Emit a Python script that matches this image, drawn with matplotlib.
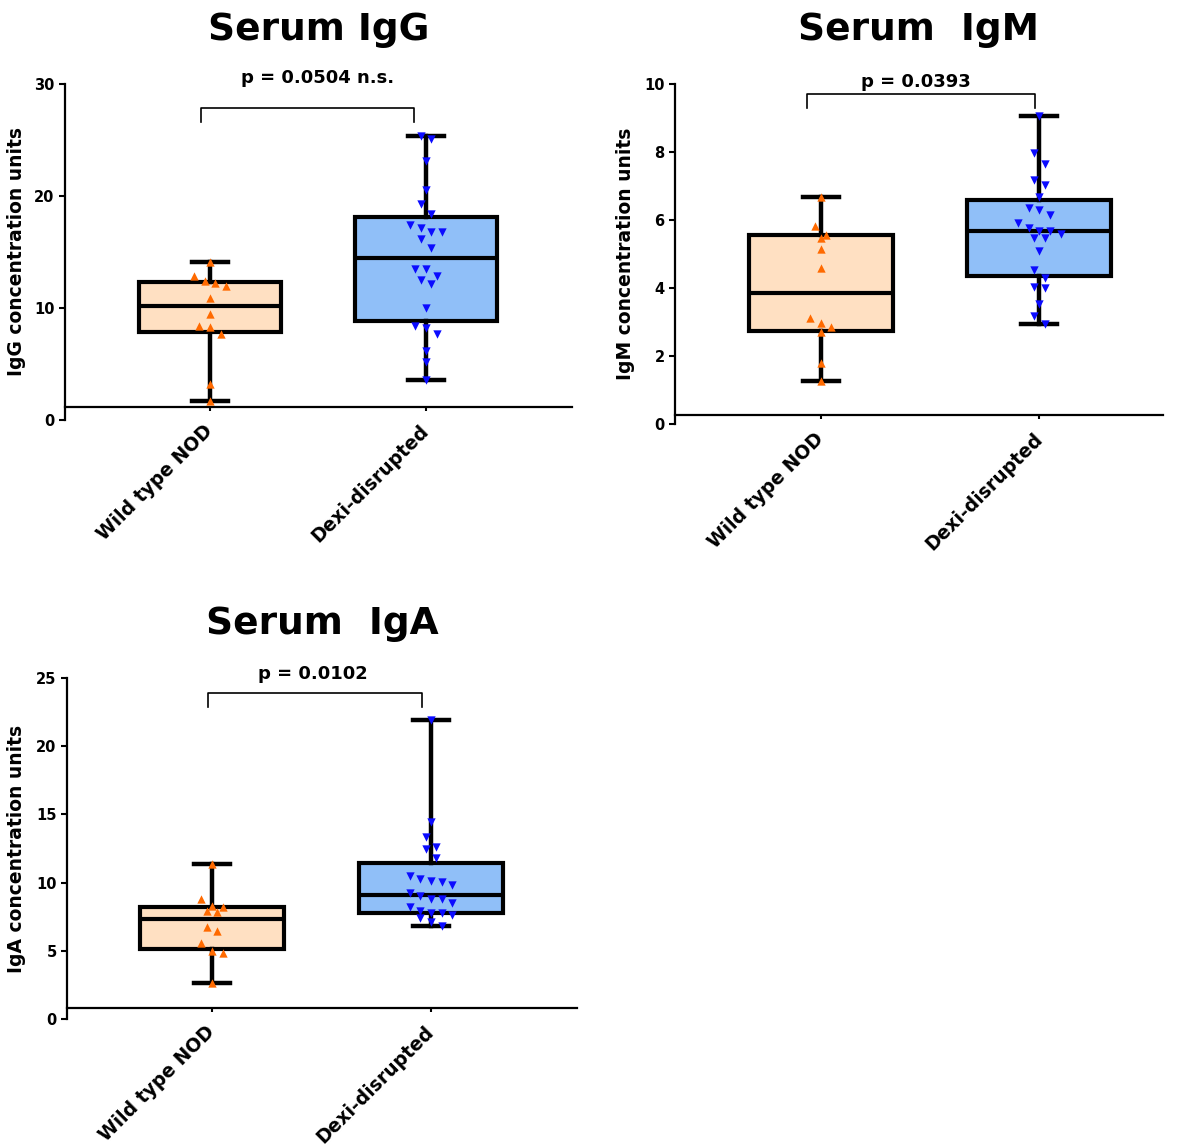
import numpy as np
import matplotlib.pyplot as plt

plt.rcParams['font.family'] = ['DejaVu Sans']
plt.rcParams['font.weight'] = 'bold'

groups = ['Wild type NOD', 'Dexi-disrupted']

# serum immunoglobulin levels, concentration units
igg_wt = [14.1, 12.9, 12.2, 12.0, 12.4, 10.9, 9.5, 8.4, 8.3, 7.7, 3.2, 1.7]
igg_dexi = [25.4, 25.1, 23.1, 20.5, 19.3, 18.4, 17.4, 16.8, 16.8, 17.1, 16.2, 15.4,
            13.5, 13.5, 12.9, 12.5, 12.1, 10.0, 8.4, 8.2, 7.7, 6.2, 5.2, 3.6]

igm_wt = [6.67, 5.83, 5.57, 5.48, 5.15, 4.60, 3.13, 2.98, 2.86, 2.71, 1.79, 1.26]
igm_dexi = [9.06, 7.96, 7.65, 7.18, 7.03, 6.67, 6.34, 6.29, 6.15, 5.90, 5.77, 5.68,
            5.68, 5.59, 5.48, 5.46, 5.09, 4.53, 4.30, 4.01, 4.04, 3.53, 3.18, 2.93]

iga_wt = [11.39, 8.82, 8.26, 8.21, 7.89, 7.87, 6.74, 6.45, 5.59, 4.96, 4.86, 2.66]
iga_dexi = [21.94, 14.41, 13.31, 12.46, 12.63, 11.80, 10.45, 10.26, 10.04, 10.12,
            9.80, 9.24, 8.99, 8.82, 8.82, 8.50, 8.21, 7.77, 7.77, 7.89, 7.65, 7.40,
            7.11, 6.84]

p_labels = ['p = 0.0504 n.s.', 'p = 0.0393', 'p = 0.0102']
titles = ['Serum IgG', 'Serum  IgM', 'Serum  IgA']
ylabels = ['IgG concentration units', 'IgM concentration units',
           'IgA concentration units']
yticks = [[0, 10, 20, 30], [0, 2, 4, 6, 8, 10], [0, 5, 10, 15, 20, 25]]

FIG_W, FIG_H = 1179, 1148
box_colors = ['#FFE0C2', '#90BFF8']
point_colors = ['#FF6A00', '#0B0BFF']
point_markers = ['^', 'v']


def box_stats(values):
    v = np.asarray(values, dtype=float)
    q1, med, q3 = np.percentile(v, [25, 50, 75], method='weibull')
    return dict(med=med, q1=q1, q3=q3, whislo=v.min(), whishi=v.max(), fliers=[])


def swarm_offsets(values, gap, step):
    # points closer than `gap` share a row and are spread symmetrically
    values = np.asarray(values, dtype=float)
    order = np.argsort(-values, kind='stable')
    offsets = np.zeros(len(values))
    rows, row = [], []
    for idx in order:
        if row and values[row[0]] - values[idx] > gap:
            rows.append(row)
            row = []
        row.append(idx)
    rows.append(row)
    for row in rows:
        k = len(row)
        for i, idx in enumerate(row):
            offsets[idx] = (i - (k - 1) / 2) * step
    return offsets


def draw_panel(rect_px, xlim, ymax, base, data, title, ylabel, ticks, p_text,
               p_xy, bracket, ylabel_x):
    x0, y_top, x1, y_bottom = rect_px
    ax = fig.add_axes([x0 / FIG_W, 1 - y_bottom / FIG_H,
                       (x1 - x0) / FIG_W, (y_bottom - y_top) / FIG_H])
    ax.set_xlim(*xlim)
    ax.set_ylim(0, ymax)

    stats = [box_stats(d) for d in data]
    bp = ax.bxp(stats, positions=[0, 1], widths=0.66, capwidths=0.165,
                patch_artist=True, showfliers=False,
                boxprops=dict(linewidth=3, edgecolor='black'),
                medianprops=dict(color='black', linewidth=3),
                whiskerprops=dict(color='black', linewidth=3.2),
                capprops=dict(color='black', linewidth=3.2))
    for patch, c in zip(bp['boxes'], box_colors):
        patch.set_facecolor(c)

    # pixel scale of this panel, used to space the scattered points
    px_per_x = (x1 - x0) / (xlim[1] - xlim[0])
    px_per_y = (y_bottom - y_top) / ymax
    for i, d in enumerate(data):
        off = swarm_offsets(d, gap=11 / px_per_y, step=10.7 / px_per_x)
        ax.scatter(i + off, d, marker=point_markers[i], s=36,
                   color=point_colors[i], linewidths=0, zorder=4, clip_on=False)

    # significance bracket
    bx0, bx1, btop, bend = bracket
    ax.plot([bx0, bx0, bx1, bx1], [bend, btop, btop, bend], color='black',
            linewidth=1.2, clip_on=False)
    ax.text(p_xy[0], p_xy[1], p_text, ha='center', va='baseline', fontsize=13,
            fontweight='bold')

    for side in ['top', 'right']:
        ax.spines[side].set_visible(False)
    ax.spines['left'].set_linewidth(1.6)
    ax.spines['bottom'].set_linewidth(1.6)
    ax.spines['bottom'].set_position(('data', base))

    ax.set_yticks(ticks)
    ax.set_yticklabels([str(t) for t in ticks], fontsize=10.5, fontweight='bold')
    ax.tick_params(axis='y', direction='out', length=4.5, width=1.5, pad=3)
    ax.set_xticks([0, 1])
    ax.set_xticklabels(groups, rotation=45, ha='right', va='center',
                       rotation_mode='anchor', fontsize=13.5, fontweight='bold')
    ax.tick_params(axis='x', direction='out', length=3, width=1.5, pad=12)

    ax.set_ylabel(ylabel, fontsize=13.5, fontweight='bold')
    ax.yaxis.set_label_coords(ylabel_x, 0.5)
    ax.set_title(title, fontsize=27, fontweight='bold', pad=32)
    return ax


fig = plt.figure(figsize=(FIG_W / 100, FIG_H / 100), dpi=100)

draw_panel((65, 84, 572, 420), (-0.671, 1.676), 30, 1.16,
           [igg_wt, igg_dexi], titles[0], ylabels[0], yticks[0], p_labels[0],
           (0.5, 30.1), (-0.04, 0.944, 27.9, 26.6), -0.077)

draw_panel((675, 84, 1163, 424), (-0.667, 1.566), 10, 0.26,
           [igm_wt, igm_dexi], titles[1], ylabels[1], yticks[1], p_labels[1],
           (0.436, 9.91), (-0.063, 0.98, 9.71, 9.29), -0.082)

draw_panel((67, 678, 577, 1019), (-0.663, 1.667), 25, 0.8,
           [iga_wt, iga_dexi], titles[2], ylabels[2], yticks[2], p_labels[2],
           (0.461, 24.9), (-0.018, 0.959, 23.92, 22.9), -0.080)

fig.savefig('out.png', dpi=100, facecolor='white')
